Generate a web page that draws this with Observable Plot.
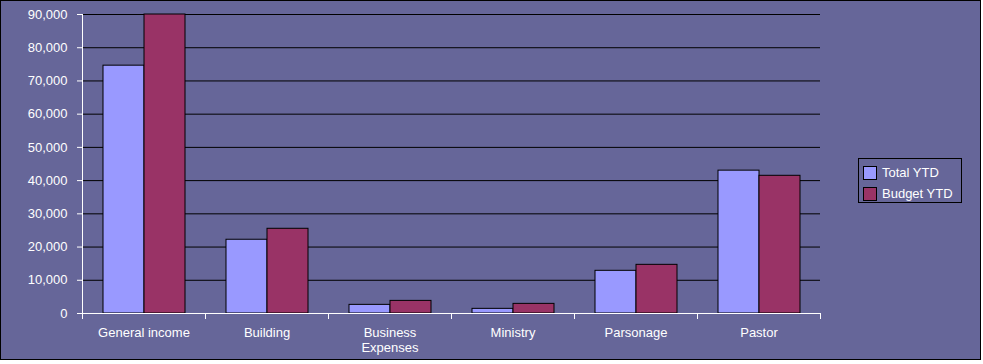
<!DOCTYPE html>
<html>
<head>
<meta charset="utf-8">
<script src="https://cdn.jsdelivr.net/npm/d3@7"></script>
<script src="https://cdn.jsdelivr.net/npm/@observablehq/plot@0.6"></script>
<style>
  html, body { margin: 0; padding: 0; background: #ffffff; }
  #wrap { position: relative; width: 979px; height: 358px; border: 1px solid #000; background: #666699; overflow: hidden;
          font-family: "Liberation Sans", Arial, sans-serif; font-size: 13px; color: #fff; }
  #chart { position: absolute; left: 0; top: 0; }
  #legend { position: absolute; left: 857px; top: 157px; width: 102px; height: 43px; border: 1px solid #000; }
  .item { position: absolute; left: 4px; height: 15px; line-height: 15px; white-space: nowrap; }
  .sw { position: absolute; left: 0; top: 1px; width: 12px; height: 12px; border: 1px solid #000; }
  .lab { position: absolute; left: 19px; top: 0; }
</style>
</head>
<body>
<div id="wrap">
  <div id="chart"></div>
  <div id="legend"></div>
</div>
<script>
const categories = ["General income", "Building", "Business\nExpenses", "Ministry", "Parsonage", "Pastor"];
const seriesNames = ["Total YTD", "Budget YTD"];
const totalYTD = [74600, 22200, 2600, 1400, 12850, 43000];
const budgetYTD = [90000, 25500, 3800, 2900, 14650, 41450];
const yTicks = [0, 10000, 20000, 30000, 40000, 50000, 60000, 70000, 80000, 90000];
const seriesColors = ["#9999FF", "#993366"];

const rows = categories.flatMap((c, i) => [
  {category: c, series: seriesNames[0], value: totalYTD[i]},
  {category: c, series: seriesNames[1], value: budgetYTD[i]}
]);

const plot = Plot.plot({
  width: 979,
  height: 358,
  marginLeft: 80,
  marginRight: 160,
  marginTop: 13,
  marginBottom: 46,
  style: {background: "transparent", color: "#fff", fontFamily: "'Liberation Sans', Arial, sans-serif", fontSize: "13px", overflow: "visible"},
  fx: {domain: categories, padding: 0, label: null},
  x: {domain: seriesNames, paddingInner: 0, paddingOuter: 0.5, axis: null},
  y: {domain: [0, 90000], label: null},
  color: {domain: seriesNames, range: seriesColors},
  marks: [
    Plot.ruleY(yTicks, {stroke: "#000", strokeWidth: 1, strokeOpacity: 1}),
    Plot.barY(rows, {fx: "category", x: "series", y: "value", fill: "series", stroke: "#000", strokeWidth: 1}),
    Plot.axisY({ticks: yTicks, tickSize: 5, tickPadding: 10, tickFormat: d3.format(","), stroke: "#fff", fill: "#fff", strokeOpacity: 1, label: null}),
    Plot.axisFx({anchor: "bottom", tickSize: 0, tickPadding: 13, label: null, fill: "#fff", lineHeight: 1.15})
  ]
});
document.getElementById("chart").appendChild(plot);

// white axis lines and between-category tick marks, from the plot's own scales
const fx = plot.scale("fx");
const y = plot.scale("y");
const svg = d3.select(plot);
const y0 = y.apply(0), yTop = y.apply(90000);
const left = fx.apply(categories[0]);
const right = fx.apply(categories[categories.length - 1]) + fx.bandwidth;
const g = svg.append("g").attr("stroke", "#fff").attr("shape-rendering", "crispEdges");
g.append("line").attr("x1", left + 0.5).attr("x2", left + 0.5).attr("y1", yTop).attr("y2", y0 + 0.5);
g.append("line").attr("x1", left).attr("x2", right + 1).attr("y1", y0 + 0.5).attr("y2", y0 + 0.5);
const edges = categories.map(c => fx.apply(c)).concat([right]);
g.selectAll(".edge").data(edges).join("line")
  .attr("x1", d => d + 0.5).attr("x2", d => d + 0.5)
  .attr("y1", y0).attr("y2", y0 + 5.5);

// legend
const legend = d3.select("#legend");
seriesNames.forEach((s, i) => {
  const it = legend.append("div").attr("class", "item").style("top", (6 + i * 21) + "px");
  it.append("div").attr("class", "sw").style("background", seriesColors[i]);
  it.append("div").attr("class", "lab").text(s);
});
</script>
</body>
</html>
